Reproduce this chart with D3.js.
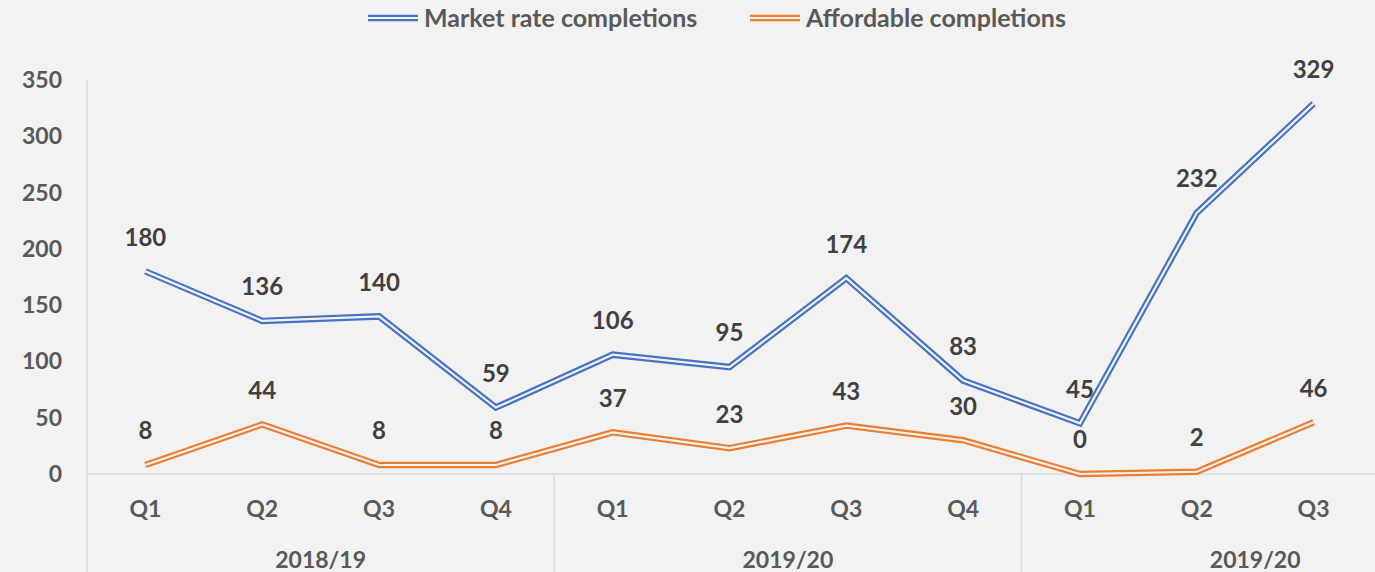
<!DOCTYPE html>
<html>
<head>
<meta charset="utf-8">
<script src="https://cdn.jsdelivr.net/npm/d3@7"></script>
<style>
  html, body { margin: 0; padding: 0; background: #f2f2f2; }
  svg { display: block; font-family: Lato, "Open Sans", sans-serif; font-weight: bold; }
</style>
</head>
<body>
<div class="chart"></div>
<script>
'use strict';

var quarters = ['Q1', 'Q2', 'Q3', 'Q4', 'Q1', 'Q2', 'Q3', 'Q4', 'Q1', 'Q2', 'Q3'];
var years = ['2018/19', '2019/20', '2019/20'];
var yearStarts = [0, 4, 8];
var marketRate = [180, 136, 140, 59, 106, 95, 174, 83, 45, 232, 329];
var affordable = [8, 44, 8, 8, 37, 23, 43, 30, 0, 2, 46];
var yTicks = [0, 50, 100, 150, 200, 250, 300, 350];

var series = [
  {name: 'Market rate completions', values: marketRate, color: '#4472c4'},
  {name: 'Affordable completions', values: affordable, color: '#ed7d31'}
];

var width = 1375, height = 572;
var bg = '#f2f2f2';

var svg = d3.select('.chart').append('svg')
  .attr('width', width)
  .attr('height', height);

svg.append('rect')
  .attr('width', width)
  .attr('height', height)
  .attr('fill', bg);

var x = d3.scaleBand()
  .domain(d3.range(quarters.length))
  .range([87, 1372]);

var y = d3.scaleLinear()
  .domain([0, 350])
  .range([474, 80]);

var bw = x.bandwidth();

// axis lines
svg.append('line')
  .attr('x1', 87).attr('x2', 87)
  .attr('y1', y(350)).attr('y2', height)
  .attr('stroke', '#d9d9d9').attr('stroke-width', 1.5);

svg.append('line')
  .attr('x1', 87).attr('x2', width)
  .attr('y1', y(0)).attr('y2', y(0))
  .attr('stroke', '#d9d9d9').attr('stroke-width', 1.5);

svg.selectAll('.sep')
  .data(yearStarts.slice(1))
  .enter().append('line')
  .attr('class', 'sep')
  .attr('x1', function(d) { return x(d); })
  .attr('x2', function(d) { return x(d); })
  .attr('y1', y(0)).attr('y2', height)
  .attr('stroke', '#d9d9d9').attr('stroke-width', 1.5);

// y tick labels
svg.selectAll('.ytick')
  .data(yTicks)
  .enter().append('text')
  .attr('class', 'ytick')
  .attr('x', 62)
  .attr('y', function(d) { return y(d); })
  .attr('dy', '0.35em')
  .attr('text-anchor', 'end')
  .attr('fill', '#595959')
  .attr('font-size', 23)
  .text(function(d) { return d; });

// quarter labels
svg.selectAll('.qtick')
  .data(quarters)
  .enter().append('text')
  .attr('class', 'qtick')
  .attr('x', function(d, i) { return x(i) + bw / 2; })
  .attr('y', 509)
  .attr('dy', '0.35em')
  .attr('text-anchor', 'middle')
  .attr('fill', '#595959')
  .attr('font-size', 23)
  .text(function(d) { return d; });

// year labels (each fiscal year spans four quarters)
svg.selectAll('.ylabel')
  .data(years)
  .enter().append('text')
  .attr('class', 'ylabel')
  .attr('x', function(d, i) { return x(yearStarts[i]) + 2 * bw; })
  .attr('y', 560)
  .attr('dy', '0.35em')
  .attr('text-anchor', 'middle')
  .attr('fill', '#595959')
  .attr('font-size', 23)
  .text(function(d) { return d; });

var line = d3.line()
  .x(function(d, i) { return x(i) + bw / 2; })
  .y(function(d) { return y(d); });

// double lines: wide coloured stroke with a background stroke through it
series.forEach(function(s) {
  svg.append('path')
    .datum(s.values)
    .attr('d', line)
    .attr('fill', 'none')
    .attr('stroke', s.color)
    .attr('stroke-width', 6.5)
    .attr('stroke-linejoin', 'miter');
  svg.append('path')
    .datum(s.values)
    .attr('d', line)
    .attr('fill', 'none')
    .attr('stroke', bg)
    .attr('stroke-width', 2.2)
    .attr('stroke-linejoin', 'miter');
});

// data labels
series.forEach(function(s) {
  svg.append('g').selectAll('text')
    .data(s.values)
    .enter().append('text')
    .attr('x', function(d, i) { return x(i) + bw / 2; })
    .attr('y', function(d) { return y(d) - 34; })
    .attr('dy', '0.35em')
    .attr('text-anchor', 'middle')
    .attr('fill', '#404040')
    .attr('font-size', 24)
    .text(function(d) { return d; });
});

// legend
var legendX = [368, 750];
var legend = svg.selectAll('.legend')
  .data(series)
  .enter().append('g')
  .attr('class', 'legend')
  .attr('transform', function(d, i) { return 'translate(' + legendX[i] + ',18)'; });

legend.append('line')
  .attr('x1', 0).attr('x2', 50)
  .attr('stroke', function(d) { return d.color; })
  .attr('stroke-width', 6.5);
legend.append('line')
  .attr('x1', 0).attr('x2', 50)
  .attr('stroke', bg)
  .attr('stroke-width', 2.2);
legend.append('text')
  .attr('x', 56)
  .attr('dy', '0.35em')
  .attr('fill', '#595959')
  .attr('font-size', 25)
  .text(function(d) { return d.name; });
</script>
</body>
</html>
